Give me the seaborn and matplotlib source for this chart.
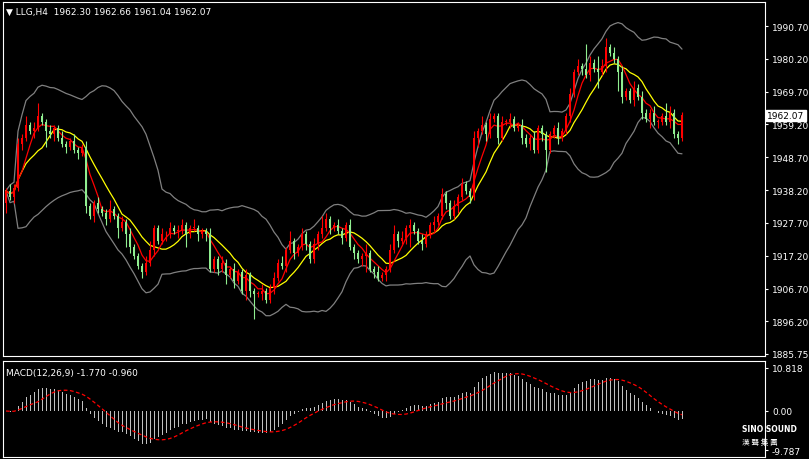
import numpy as np
import pandas as pd
import matplotlib
matplotlib.use("Agg")
import matplotlib.pyplot as plt
import seaborn as sns

# close prices per H4 candle
closes = [1938, 1936, 1939, 1953, 1955, 1959, 1957, 1958, 1962, 1960,
          1957, 1956, 1958, 1955, 1953, 1952, 1954, 1951, 1950, 1952,
          1933, 1930, 1934, 1932, 1931, 1929, 1932, 1930, 1926, 1928,
          1924, 1920, 1917, 1914, 1912, 1915, 1919, 1926, 1922, 1924,
          1924, 1926, 1925, 1925, 1927, 1924, 1926, 1926, 1924, 1925,
          1924, 1913, 1916, 1913, 1915, 1911, 1913, 1909, 1912, 1906,
          1911, 1906, 1905, 1905, 1906, 1903, 1907, 1910, 1915, 1914,
          1919, 1922, 1918, 1920, 1924, 1921, 1916, 1921, 1924, 1926,
          1929, 1926, 1927, 1925, 1923, 1927, 1920, 1918, 1916, 1917,
          1918, 1913, 1912, 1910, 1911, 1913, 1919, 1924, 1922, 1923,
          1926, 1927, 1925, 1922, 1921, 1924, 1927, 1928, 1930, 1937,
          1934, 1930, 1933, 1936, 1940, 1938, 1936, 1955, 1957, 1959,
          1956, 1961, 1962, 1955, 1960, 1960, 1961, 1958, 1959, 1955,
          1953, 1955, 1951, 1958, 1956, 1951, 1956, 1958, 1955, 1957,
          1962, 1969, 1976, 1978, 1977, 1975, 1979, 1977, 1976, 1978,
          1984, 1982, 1980, 1976, 1968, 1970, 1967, 1971, 1968, 1963,
          1961, 1963, 1960, 1960, 1962, 1960, 1963, 1956, 1955, 1962.07]
first_open = 1934.0
# wick lengths above / below the body
upper_wick = [1, 2, 1, 2, 1, 3, 1, 2, 4, 1, 1, 2, 1, 1, 2, 1, 1, 2, 1, 1,
              2, 1, 1, 2, 1, 1, 3, 1, 1, 2, 1, 2, 1, 1, 1, 2, 3, 1, 1, 2,
              1, 2, 1, 2, 2, 1, 1, 3, 1, 1, 1, 2, 1, 1, 2, 1, 1, 2, 1, 1,
              2, 1, 1, 1, 2, 1, 1, 2, 1, 2, 1, 3, 1, 1, 2, 1, 1, 2, 1, 4,
              2, 1, 1, 2, 1, 1, 2, 1, 1, 1, 3, 1, 1, 2, 1, 1, 2, 3, 1, 2,
              1, 2, 1, 1, 2, 1, 1, 2, 1, 2, 1, 1, 2, 1, 2, 1, 1, 2, 1, 3,
              1, 2, 1, 1, 2, 1, 2, 1, 1, 2, 1, 1, 2, 1, 1, 1, 1, 1, 2, 1,
              1, 2, 1, 2, 1, 8, 2, 1, 4, 2, 3, 1, 2, 1, 2, 1, 1, 2, 1, 2,
              1, 1, 2, 1, 1, 4, 2, 1, 1, 1]
lower_wick = [3, 1, 2, 1, 2, 1, 1, 2, 1, 1, 5, 1, 2, 1, 1, 2, 1, 1, 2, 1,
              2, 1, 2, 1, 1, 2, 1, 1, 3, 1, 4, 2, 1, 1, 2, 1, 1, 2, 1, 1,
              2, 1, 1, 2, 1, 4, 1, 1, 2, 1, 2, 1, 1, 2, 1, 3, 1, 2, 1, 1,
              3, 2, 8, 1, 2, 1, 1, 2, 1, 1, 2, 1, 2, 1, 1, 2, 1, 1, 2, 1,
              1, 2, 1, 1, 2, 1, 1, 2, 1, 2, 5, 1, 2, 1, 1, 2, 1, 1, 2, 1,
              2, 6, 1, 1, 2, 1, 1, 2, 1, 1, 2, 1, 1, 2, 1, 1, 2, 1, 3, 1,
              2, 1, 1, 2, 1, 1, 2, 1, 1, 2, 1, 2, 1, 1, 2, 7, 1, 1, 2, 1,
              1, 2, 1, 1, 2, 1, 2, 1, 5, 1, 2, 1, 1, 6, 2, 1, 1, 2, 1, 2,
              1, 3, 1, 2, 1, 1, 2, 1, 2, 1]
price_ticks = [1990.70, 1980.20, 1969.70, 1959.20, 1948.70, 1938.20,
               1927.70, 1917.20, 1906.70, 1896.20, 1885.75]
macd_ticks = [10.818, 0.00, -9.787]
last_price = 1962.07

df = pd.DataFrame({"close": closes})
df["idx"] = np.arange(len(df))
df["open"] = df["close"].shift(1).fillna(first_open)
df["high"] = df[["open", "close"]].max(axis=1) + upper_wick
df["low"] = df[["open", "close"]].min(axis=1) - lower_wick
df["ma_fast"] = df["close"].rolling(5, min_periods=1).mean()
df["ma_slow"] = df["close"].rolling(10, min_periods=1).mean()
mid = df["close"].rolling(20, min_periods=1).mean()
sd = df["close"].rolling(20, min_periods=1).std().fillna(0)
df["bb_up"] = mid + 2 * sd
df["bb_lo"] = mid - 2 * sd
ema12 = df["close"].ewm(span=12, adjust=False).mean()
ema26 = df["close"].ewm(span=26, adjust=False).mean()
df["macd"] = ema12 - ema26
df["signal"] = df["macd"].rolling(9, min_periods=1).mean()

sns.set_style("dark", {"axes.facecolor": "black", "figure.facecolor": "black"})
fig = plt.figure(figsize=(8.09, 4.60), dpi=100)
W, H = 809, 460
ax = fig.add_axes([3 / W, 1 - 357 / H, 762 / W, 354 / H])
ax2 = fig.add_axes([3 / W, 1 - 458 / H, 762 / W, 96 / H])

for a in (ax, ax2):
    a.set_facecolor("black")
    for s in a.spines.values():
        s.set_color("white")
        s.set_linewidth(0.8)
    a.set_xlim(-0.75, 189.75)
    a.set_xticks([])
    a.yaxis.tick_right()
    a.tick_params(axis="y", colors="white", labelsize=6.5, length=2, pad=3)

# Bollinger bands and moving averages
sns.lineplot(data=df, x="idx", y="bb_up", ax=ax, color="#808080", lw=0.9)
sns.lineplot(data=df, x="idx", y="bb_lo", ax=ax, color="#808080", lw=0.9)
sns.lineplot(data=df, x="idx", y="ma_slow", ax=ax, color="yellow", lw=0.9)
sns.lineplot(data=df, x="idx", y="ma_fast", ax=ax, color="red", lw=0.9)

up = df["close"] >= df["open"]
colors = np.where(up, "#ff0000", "#90ee90")
ax.vlines(df["idx"], df["low"], df["high"], colors=colors, lw=0.8, zorder=3)
ax.bar(df["idx"], (df["close"] - df["open"]).abs().clip(lower=0.3),
       bottom=df[["open", "close"]].min(axis=1), width=0.7, color=colors,
       edgecolor=colors, linewidth=0, zorder=4)

ax.set_ylim(1885.11, 1998.38)
ax.set_yticks(price_ticks)
ax.set_yticklabels([f"{v:.2f}" for v in price_ticks])
ax.set_xlabel("")
ax.set_ylabel("")
ax.text(1.003, (last_price - 1885.11) / (1998.38 - 1885.11), f"{last_price:.2f}",
        transform=ax.transAxes, fontsize=6.5, color="black", va="center", ha="left",
        bbox=dict(facecolor="white", edgecolor="white", pad=1))
ax.text(0.004, 0.985, "▼ LLG,H4  1962.30 1962.66 1961.04 1962.07", transform=ax.transAxes,
        fontsize=6.5, color="white", va="top")

# MACD panel
ax2.bar(df["idx"], df["macd"], width=0.25, color="#c0c0c0", edgecolor="#c0c0c0", linewidth=0)
sns.lineplot(data=df, x="idx", y="signal", ax=ax2, color="red", lw=0.9, linestyle=(0, (3, 2)))
ax2.set_ylim(-11.5, 12.5)
ax2.set_yticks(macd_ticks)
ax2.set_yticklabels(["10.818", "0.00", "-9.787"])
ax2.set_xlabel("")
ax2.set_ylabel("")
ax2.text(0.004, 0.93, "MACD(12,26,9) -1.770 -0.960", transform=ax2.transAxes,
         fontsize=6.5, color="white", va="top")
fig.text(742 / W, 1 - 432 / H, "SINO SOUND", fontsize=5.5, color="white", fontweight="bold")
fig.text(742 / W, 1 - 445 / H, "漢 聲 集 團", fontsize=5.5, color="white",
         fontfamily=["Noto Sans CJK JP", "Noto Sans CJK SC", "Noto Sans CJK TC"])

fig.savefig("out.png", dpi=100, facecolor="black")
